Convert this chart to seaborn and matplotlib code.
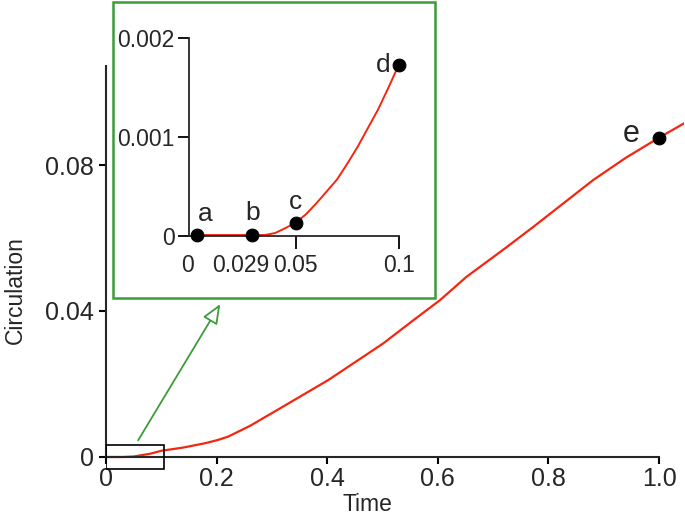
import numpy as np
import pandas as pd
import matplotlib
matplotlib.use("Agg")
import matplotlib.pyplot as plt
import matplotlib.patches as mpatches
import matplotlib.transforms as mtransforms
import matplotlib.font_manager as fm
import seaborn as sns

# main curve (time vs circulation)
main_t = [0, 0.03, 0.05, 0.08, 0.1, 0.14, 0.18, 0.203, 0.221, 0.26, 0.32, 0.402,
          0.501, 0.556, 0.604, 0.652, 0.72, 0.773, 0.881, 0.94, 1.0, 1.045]
main_c = [0, 0, 0.00013, 0.0009, 0.0017, 0.0026, 0.0038, 0.0047, 0.0056, 0.0085,
          0.0138, 0.0211, 0.0311, 0.0375, 0.043, 0.0494, 0.057, 0.0631, 0.0759,
          0.082, 0.0875, 0.0914]

# zoomed early stage
inset_t = [0, 0.002, 0.01, 0.02, 0.029, 0.035, 0.04, 0.045, 0.05, 0.055, 0.06,
           0.065, 0.07, 0.075, 0.08, 0.085, 0.09, 0.095, 0.1]
inset_c = [0.00001, 0.00001, 0.00001, 0.00001, 0.00001, 0.00001, 0.00003,
           0.00008, 0.000135, 0.00022, 0.00033, 0.00045, 0.00057, 0.00073,
           0.0009, 0.00109, 0.00128, 0.0015, 0.00173]

# labelled instants
pt_names = ["a", "b", "c", "d", "e"]
pt_t = [0.002, 0.029, 0.05, 0.1, 1.0]
pt_c = [0.00001, 0.00001, 0.000135, 0.00173, 0.0873]

main_ticks_x = [0, 0.2, 0.4, 0.6, 0.8, 1.0]
main_labels_x = ["0", "0.2", "0.4", "0.6", "0.8", "1.0"]
main_ticks_y = [0, 0.04, 0.08]
main_labels_y = ["0", "0.04", "0.08"]
inset_ticks_y = [0, 0.001, 0.002]
inset_labels_y = ["0", "0.001", "0.002"]

sns.set_style("ticks")
plt.rcParams["font.family"] = ["Liberation Sans", "DejaVu Sans"]

RED = "#f5260f"
GREEN = "#3c9c3c"
W, H = 685, 520

def fx(px):
    return px / W

def fy(py):
    return 1 - py / H

fig = plt.figure(figsize=(6.85, 5.2), dpi=100)

# main axes
ax = fig.add_axes([fx(106), fy(471.6), (684 - 106) / W, (471.6 - 55.5) / H])
ax.set_zorder(0)
main_df = pd.DataFrame({"Time": main_t, "Circulation": main_c})
sns.lineplot(data=main_df, x="Time", y="Circulation", ax=ax, color=RED,
             linewidth=1.6, sort=False)
ax.set_xlim(0, 1.045)
ax.set_ylim(-0.004, 0.11)
for s in ["top", "right"]:
    ax.spines[s].set_visible(False)
ax.spines["left"].set_bounds(0, 0.107)
ax.spines["bottom"].set_bounds(0, 1.0)
ax.spines["bottom"].set_position(("data", 0))
for s in ["left", "bottom"]:
    ax.spines[s].set_linewidth(1.5)
ax.set_xticks(main_ticks_x, main_labels_x)
ax.set_yticks(main_ticks_y, main_labels_y)
ax.tick_params(axis="both", labelsize=18, length=5, width=1.5, color="black")
ax.tick_params(axis="x", pad=2)
ax.set_xlabel("Time", fontsize=16.5)
ax.set_ylabel("Circulation", fontsize=16.5)
ax.xaxis.set_label_coords(0.4516, -0.052)
ax.yaxis.set_label_coords(-0.137, 0.436)
ax.add_patch(mpatches.Rectangle((0, -0.0033), 0.105, 0.0066, fill=False,
                                edgecolor="black", linewidth=1.2, zorder=3))

sns.scatterplot(x=pt_t[4:], y=pt_c[4:], ax=ax, color="black", s=85,
                edgecolor="black", zorder=5, legend=False)
ax.text(pt_t[4] - 0.035, pt_c[4] + 0.0013, pt_names[4], fontsize=22,
        ha="right", va="center")

# green frame and arrow
fig.patches.append(mpatches.Rectangle((fx(113), fy(298)), 322 / W, 296 / H,
                                      transform=fig.transFigure, facecolor="white",
                                      edgecolor=GREEN, linewidth=1.8, zorder=1))
fig.patches.append(mpatches.FancyArrowPatch((fx(136.7), fy(442.7)), (fx(221.7), fy(301.7)),
                                            transform=fig.transFigure,
                                            arrowstyle="-|>,head_length=12,head_width=5",
                                            facecolor="white", edgecolor=GREEN,
                                            linewidth=1.3, zorder=2))

# inset axes
ix = fig.add_axes([fx(188.6), fy(245.9), (406.9 - 188.6) / W, (245.9 - 28.5) / H])
ix.set_zorder(3)
ix.patch.set_alpha(0)
inset_df = pd.DataFrame({"t": inset_t, "c": inset_c})
sns.lineplot(data=inset_df, x="t", y="c", ax=ix, color=RED, linewidth=1.4, sort=False)
sns.scatterplot(x=pt_t[:4], y=pt_c[:4], ax=ix, color="black", s=85,
                edgecolor="black", zorder=5, legend=False, clip_on=False)
ix.set_xlim(-0.002, 0.104)
ix.set_ylim(-0.0001, 0.0021)
for s in ["top", "right"]:
    ix.spines[s].set_visible(False)
ix.spines["left"].set_bounds(0, 0.002)
ix.spines["bottom"].set_position(("data", 0))
ix.spines["bottom"].set_bounds(-0.002, 0.1)
for s in ["left", "bottom"]:
    ix.spines[s].set_linewidth(1.3)
ix.set_xlabel("")
ix.set_ylabel("")

installed = {f.name for f in fm.fontManager.ttflist}
narrow = ["Liberation Sans Narrow"] if "Liberation Sans Narrow" in installed else []
narrow += ["Liberation Sans", "DejaVu Sans"]
ix.set_xticks([0.05, 0.1], ["0.05", "0.1"])
ix.set_xticks([0, 0.029], ["0", "0.029"], minor=True)
ix.set_yticks(inset_ticks_y, inset_labels_y)
ix.tick_params(axis="x", which="major", length=9, width=1.3, pad=4, color="black")
ix.tick_params(axis="x", which="minor", length=0, pad=13)
ix.tick_params(axis="y", length=8, width=1.3, pad=2, color="black")
isize = 19 if narrow[0] == "Liberation Sans Narrow" else 16.5
for lab in ix.get_xticklabels() + ix.get_xticklabels(minor=True) + ix.get_yticklabels():
    lab.set_fontfamily(narrow)
    lab.set_fontsize(isize)
# nudge the unticked labels like the original
shifts = {"0": -5, "0.029": -12}
for lab in ix.get_xticklabels(minor=True):
    dx = shifts.get(lab.get_text(), 0)
    lab.set_transform(lab.get_transform() +
                      mtransforms.ScaledTranslation(dx / 100, 0, fig.dpi_scale_trans))

offsets = {"a": (0.004, 0.00021), "b": (0.0, 0.00022), "c": (0.0, 0.00021),
           "d": (-0.004, 0.0)}
for name, t, c in zip(pt_names[:4], pt_t[:4], pt_c[:4]):
    dx, dy = offsets[name]
    ha = "right" if name == "d" else "center"
    ix.text(t + dx, c + dy, name, fontsize=19, ha=ha, va="center")

fig.savefig("out.png", dpi=100)
